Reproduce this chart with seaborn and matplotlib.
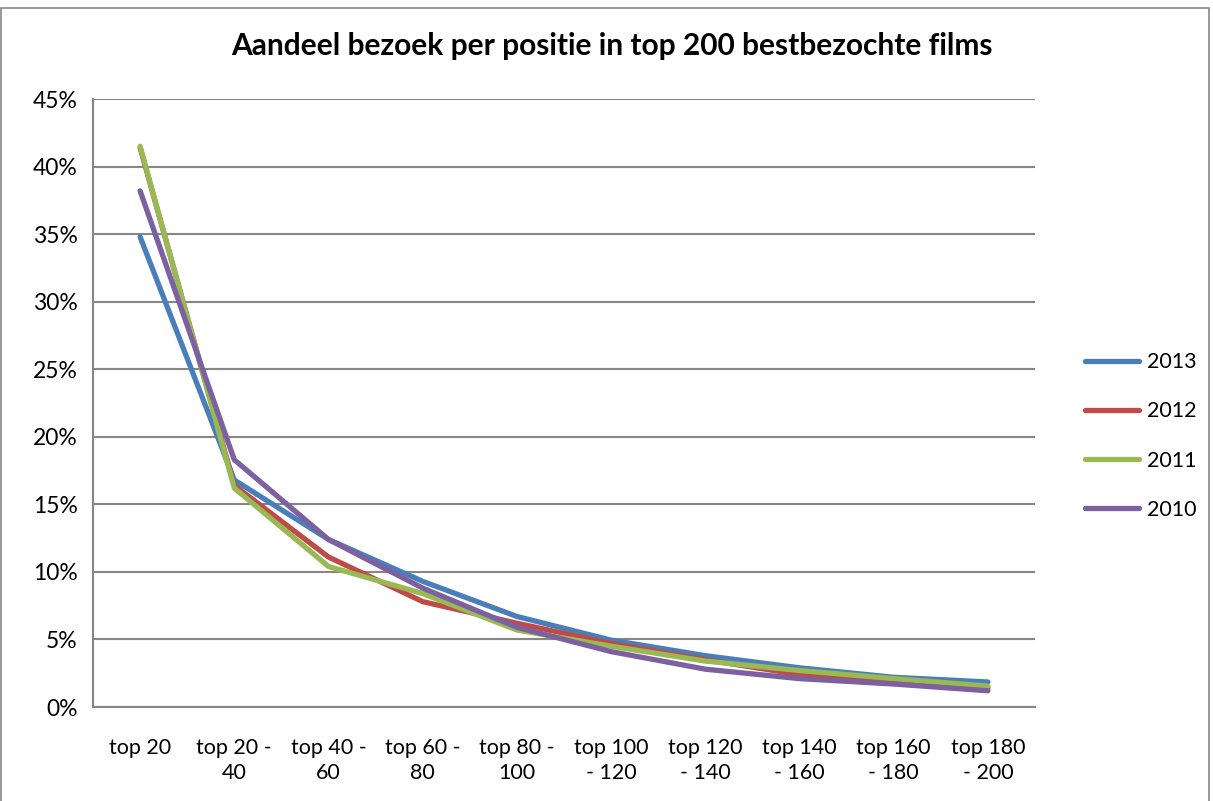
import matplotlib
matplotlib.use("Agg")
import matplotlib.pyplot as plt
import seaborn as sns
import pandas as pd
import numpy as np
from matplotlib.ticker import FixedLocator, FuncFormatter

categories = ["top 20", "top 20 -\n40", "top 40 -\n60", "top 60 -\n80", "top 80 -\n100",
              "top 100\n- 120", "top 120\n- 140", "top 140\n- 160", "top 160\n- 180", "top 180\n- 200"]
years = ["2013", "2012", "2011", "2010"]
s2013 = [34.8, 16.8, 12.4, 9.3, 6.7, 4.95, 3.8, 2.9, 2.2, 1.85]
s2012 = [41.4, 16.4, 11.1, 7.8, 6.2, 4.7, 3.5, 2.4, 1.85, 1.4]
s2011 = [41.5, 16.2, 10.4, 8.4, 5.7, 4.5, 3.4, 2.7, 2.1, 1.55]
s2010 = [38.2, 18.3, 12.4, 8.8, 5.9, 4.1, 2.8, 2.1, 1.7, 1.2]
colors = ["#4A7EBB", "#BE4B48", "#98B954", "#7D60A0"]

rows = []
for yr, vals in zip(years, [s2013, s2012, s2011, s2010]):
    for i, (c, v) in enumerate(zip(categories, vals)):
        rows.append({"pos": i, "cat": c, "year": yr, "share": v})
df = pd.DataFrame(rows)

sns.set_theme(style="white")
plt.rcParams["font.family"] = ["Lato", "DejaVu Sans"]
plt.rcParams["text.color"] = "black"
plt.rcParams["xtick.color"] = "black"
plt.rcParams["ytick.color"] = "black"

fig = plt.figure(figsize=(12.13, 8.01), dpi=100)
ax = fig.add_axes([93/1213, 1-707/801, (1035-93)/1213, (707-99)/801])

sns.lineplot(data=df, x="pos", y="share", hue="year", hue_order=years,
             palette=colors, linewidth=3.8, ax=ax, legend=True)

ax.set_xlim(-0.5, 9.5)
ax.set_ylim(0, 45)
ax.set_yticks(np.arange(0, 46, 5))
ax.yaxis.set_major_formatter(FuncFormatter(lambda v, p: f"{int(v)}%"))
ax.grid(axis="y", color="#868686", linewidth=1.5)
ax.set_axisbelow(True)

ax.set_xticks(range(10))
ax.set_xticklabels(categories, fontsize=15.5, linespacing=1.35)
ax.xaxis.set_minor_locator(FixedLocator(np.arange(-0.5, 10, 1)))
ax.tick_params(axis="x", which="major", length=0, pad=22, labelcolor="black")
ax.tick_params(axis="x", which="minor", length=7, width=1.5, color="#868686", direction="out")
ax.tick_params(axis="y", which="major", length=6, width=1.5, color="#868686", direction="out",
               labelsize=16.5, pad=5, labelcolor="black")

for side in ["top", "right"]:
    ax.spines[side].set_visible(False)
for side in ["left", "bottom"]:
    ax.spines[side].set_color("#868686")
    ax.spines[side].set_linewidth(1.5)

ax.set_xlabel("")
ax.set_ylabel("")

fig.text(612/1213, 1-46/801, "Aandeel bezoek per positie in top 200 bestbezochte films",
         fontsize=21.5, fontweight="bold", ha="center", va="center", color="black")

handles, labels = ax.get_legend_handles_labels()
ax.legend(handles, labels, loc="center left", bbox_to_anchor=(1066/1213, 1-436/801),
          bbox_transform=fig.transFigure, frameon=False, fontsize=15.5,
          handlelength=2.5, labelspacing=1.35, handletextpad=0.35)

rect = plt.Rectangle((1/1213, -0.01), 1208/1213, 1.0, transform=fig.transFigure,
                     fill=False, edgecolor="#868686", linewidth=1.2)
fig.patches.append(rect)

fig.savefig("out.png", dpi=100)
